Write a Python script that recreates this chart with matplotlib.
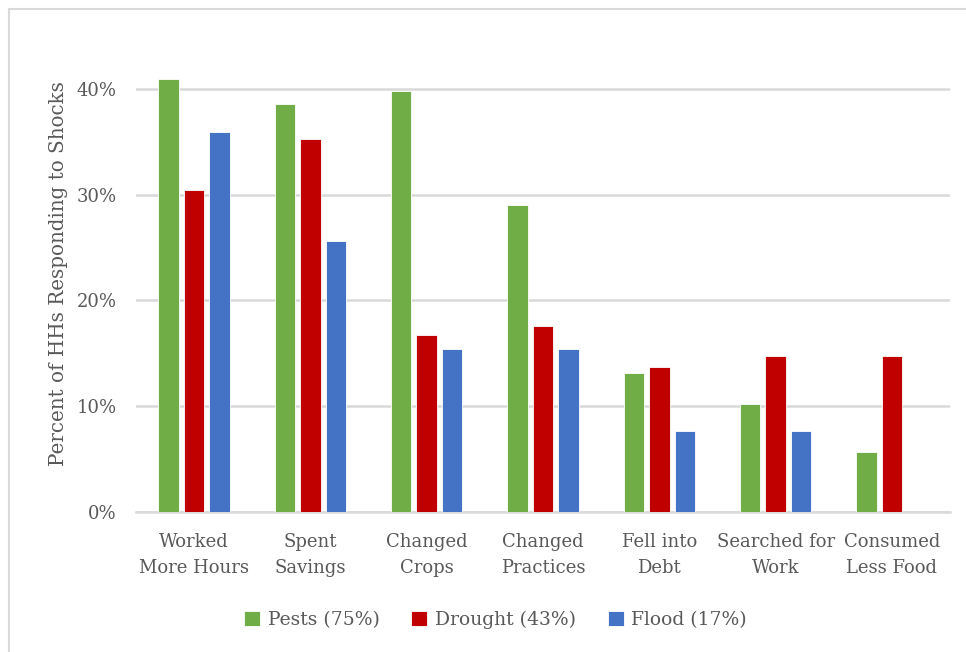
import matplotlib
matplotlib.use("Agg")
import matplotlib.pyplot as plt
from matplotlib.patches import Rectangle
from matplotlib.ticker import FuncFormatter
import numpy as np

categories = ["Worked\nMore Hours", "Spent\nSavings", "Changed\nCrops", "Changed\nPractices",
              "Fell into\nDebt", "Searched for\nWork", "Consumed\nLess Food"]
series_names = ["Pests (75%)", "Drought (43%)", "Flood (17%)"]
pests = [0.409, 0.386, 0.398, 0.290, 0.131, 0.102, 0.057]
drought = [0.304, 0.353, 0.167, 0.176, 0.137, 0.147, 0.147]
flood = [0.359, 0.256, 0.154, 0.154, 0.077, 0.077, 0.0]
y_ticks = [0.0, 0.1, 0.2, 0.3, 0.4]

colors = ["#70AD47", "#C00000", "#4472C4"]
text_color = "#595959"
grid_color = "#D9D9D9"
font = "DejaVu Serif"

plt.rcParams["font.family"] = [font]

fig = plt.figure(figsize=(9.66, 6.52), dpi=100)
fig.patch.set_facecolor("white")

# chart-area border
fig.patches.append(Rectangle((8.5 / 966, -0.05), 1.2, 1 - 8.5 / 652 + 0.05,
                             transform=fig.transFigure, fill=False,
                             edgecolor=grid_color, linewidth=1.5, zorder=0))

ax = fig.add_axes([136 / 966, 1 - 512 / 652, (950 - 136) / 966, 0.7301])

x = np.arange(len(categories))
pitch = 0.219
width = 0.176
for i, (vals, name) in enumerate(zip([pests, drought, flood], series_names)):
    ax.bar(x + (i - 1) * pitch, vals, width=width, color=colors[i],
           edgecolor="white", linewidth=0.6, label=name, zorder=3)

ax.set_xlim(-0.5, len(categories) - 0.5)
ax.set_ylim(0, 0.45)
ax.set_yticks(y_ticks)
ax.yaxis.set_major_formatter(FuncFormatter(lambda v, p: f"{v * 100:.0f}%"))
ax.yaxis.grid(True, color=grid_color, linewidth=1.8, zorder=0)
ax.set_axisbelow(True)

ax.set_xticks(x)
ax.set_xticklabels(categories, linespacing=1.6)
ax.tick_params(axis="x", length=0, pad=15, labelsize=13, labelcolor=text_color)
ax.tick_params(axis="y", length=0, pad=14, labelsize=13, labelcolor=text_color)

for side in ["top", "right", "left"]:
    ax.spines[side].set_visible(False)
ax.spines["bottom"].set_color(grid_color)
ax.spines["bottom"].set_linewidth(1.8)

ax.set_ylabel("Percent of HHs Responding to Shocks", fontsize=14.3, color=text_color, labelpad=6)

leg = fig.legend(loc="center", bbox_to_anchor=(0.513, 1 - 620 / 652), ncol=3,
                 frameon=False, fontsize=13.5, handlelength=0.85, handleheight=0.85,
                 handletextpad=0.4, columnspacing=1.7)
for t in leg.get_texts():
    t.set_color(text_color)

fig.savefig("out.png", dpi=100, facecolor="white")
